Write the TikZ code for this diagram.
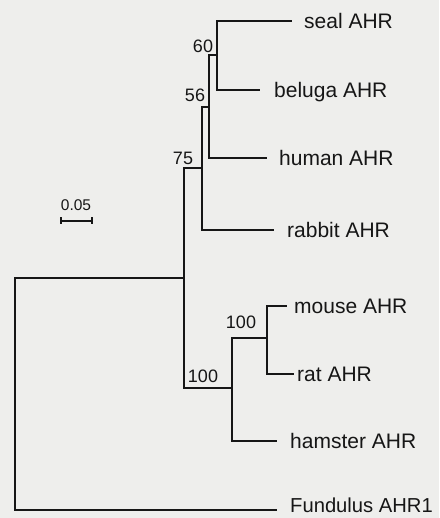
\documentclass[tikz,border=0pt]{standalone}
\usepackage{fontspec}
\setmainfont{Liberation Sans}
\definecolor{bg}{RGB}{238,238,236}
\definecolor{ink}{RGB}{22,22,22}
\begin{document}
\begin{tikzpicture}[x=1pt,y=-1pt,
  branch/.style={draw=ink,line width=2.5pt},
  taxon/.style={anchor=west,inner sep=0pt,text depth=0pt,font=\fontsize{21}{21}\selectfont,text=ink},
  boot/.style={inner sep=0pt,text depth=0pt,font=\fontsize{18}{18}\selectfont,text=ink},
  scalelbl/.style={inner sep=0pt,text depth=0pt,font=\fontsize{15.5}{15.5}\selectfont,text=ink}]
\fill[bg] (0,0) rectangle (439,518);
\useasboundingbox (0,0) rectangle (439,518);
% internal nodes (x of vertical, middle y)
\coordinate (R) at (15,394);
\coordinate (A) at (184,278);
\coordinate (B) at (202,168);
\coordinate (D) at (209,107);
\coordinate (E) at (217,55);
\coordinate (C) at (232,388);
\coordinate (F) at (267,338);
% leaf ends
\coordinate (seal) at (292,21);
\coordinate (beluga) at (260,90);
\coordinate (human) at (267,158);
\coordinate (rabbit) at (274,230);
\coordinate (mouse) at (287,306);
\coordinate (rat) at (294,374);
\coordinate (hamster) at (277,441);
\coordinate (fund) at (277,510);
% branches
\draw[branch] (R) |- (A);
\draw[branch] (R) |- (fund);
\draw[branch] (A) |- (B);
\draw[branch] (A) |- (C);
\draw[branch] (B) |- (D);
\draw[branch] (B) |- (rabbit);
\draw[branch] (D) |- (E);
\draw[branch] (D) |- (human);
\draw[branch] (E) |- (seal);
\draw[branch] (E) |- (beluga);
\draw[branch] (C) |- (F);
\draw[branch] (C) |- (hamster);
\draw[branch] (F) |- (mouse);
\draw[branch] (F) |- (rat);
% taxa
\node[taxon] (tseal) at (304,21) {seal AHR};
\node[taxon] (tbeluga) at (274,90) {beluga AHR};
\node[taxon] (thuman) at (279,158) {human AHR};
\node[taxon] (trabbit) at (287,230) {rabbit AHR};
\node[taxon] (tmouse) at (294,306) {mouse AHR};
\node[taxon] (trat) at (297,374) {rat AHR};
\node[taxon] (thamster) at (290,441) {hamster AHR};
\node[taxon,font=\fontsize{20.2}{20.2}\selectfont] (tfund) at (290,505) {Fundulus AHR1};
% bootstrap values
\node[boot] (b60) at (203,46) {60};
\node[boot] (b56) at (195,95) {56};
\node[boot] (b75) at (183,158) {75};
\node[boot] (b100a) at (241,322) {100};
\node[boot] (b100b) at (203,376) {100};
% scale bar
\node[scalelbl] (sl) at (76,205) {0.05};
\coordinate (sbL) at (61,221);
\coordinate (sbR) at (92,221);
\draw[branch,line width=2.2pt] (sbL) -- (sbR);
\draw[branch,line width=2.2pt] ([yshift=-3]sbL) -- ([yshift=4]sbL);
\draw[branch,line width=2.2pt] ([yshift=-3]sbR) -- ([yshift=4]sbR);
\end{tikzpicture}
\end{document}
